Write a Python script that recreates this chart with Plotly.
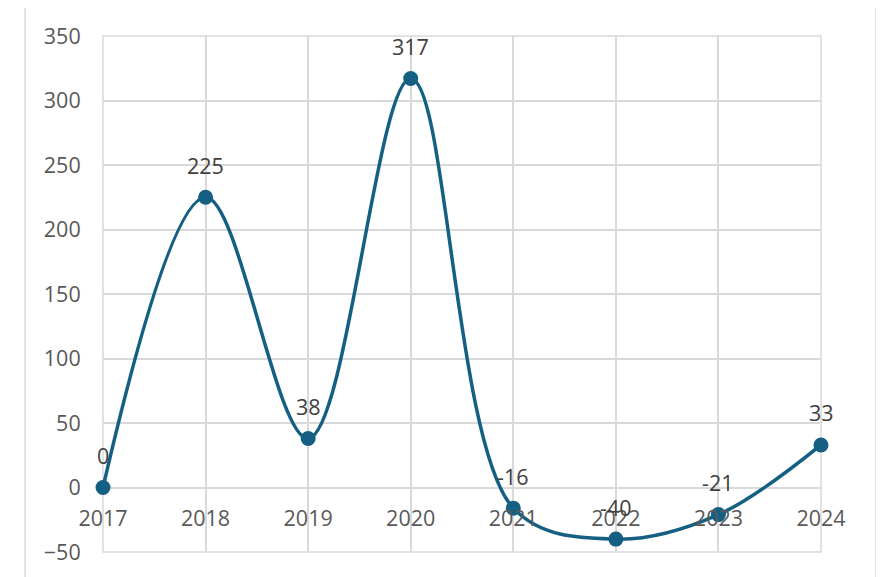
import plotly.graph_objects as go

years = ["2017", "2018", "2019", "2020", "2021", "2022", "2023", "2024"]
values = [0, 225, 38, 317, -16, -40, -21, 33]
y_ticks = [-50, 0, 50, 100, 150, 200, 250, 300, 350]

LINE = "#156082"
GRID = "#d9d9d9"
AXIS_TXT = "#595959"
LABEL_TXT = "#404040"
FONT = "Open Sans"
FS = 21.5

xs = list(range(len(years)))

fig = go.Figure()
fig.add_trace(go.Scatter(
    x=xs, y=values, mode="lines+markers",
    line=dict(color=LINE, width=3.5, shape="spline", smoothing=1.0),
    marker=dict(color=LINE, size=15),
    hoverinfo="skip", showlegend=False, cliponaxis=False,
))

for x, v in zip(xs, values):
    fig.add_annotation(x=x, y=v, text=str(v), showarrow=False, yshift=32,
                       font=dict(family=FONT, size=FS, color=LABEL_TXT))

fig.update_layout(
    width=884, height=577,
    margin=dict(l=95, r=71, t=28, b=33, autoexpand=False),
    paper_bgcolor="white", plot_bgcolor="white",
    font=dict(family=FONT, size=FS, color=AXIS_TXT),
    xaxis=dict(
        range=[0, len(years) - 1], tickmode="array", tickvals=xs, ticktext=years,
        showgrid=True, gridcolor=GRID, gridwidth=1.5,
        zeroline=False, showline=False, automargin=False,
        anchor="free", position=50 / 400,
        ticks="outside", ticklen=12, tickcolor="rgba(0,0,0,0)",
        tickfont=dict(family=FONT, size=FS, color=AXIS_TXT),
    ),
    yaxis=dict(
        range=[-50, 350], tickmode="array", tickvals=y_ticks,
        showgrid=True, gridcolor=GRID, gridwidth=1.5,
        zeroline=False, showline=False, automargin=False,
        ticks="outside", ticklen=17, tickcolor="rgba(0,0,0,0)",
        tickfont=dict(family=FONT, size=FS, color=AXIS_TXT),
    ),
)

# plot-area frame and outer chart border
fig.add_shape(type="rect", xref="paper", yref="paper", x0=0, x1=1, y0=0, y1=1,
              line=dict(color=GRID, width=1.5), layer="below")
fig.add_shape(type="rect", xref="paper", yref="paper",
              x0=-0.1086, x1=1.0766, y0=-0.08, y1=1.058,
              line=dict(color=GRID, width=1.5), layer="below")

fig.write_html("out.html")
